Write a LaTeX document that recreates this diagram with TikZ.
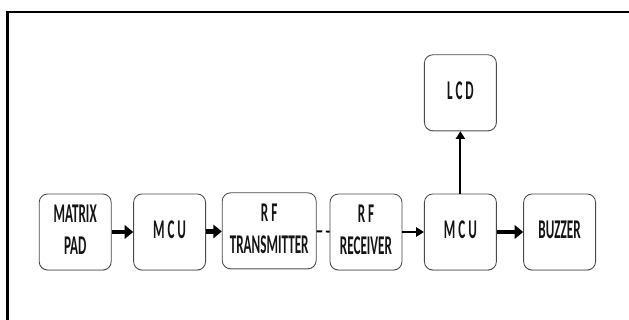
\documentclass[tikz,border=0pt]{standalone}
\usepackage{fontspec}
\setmainfont{Carlito}
\usepackage{graphicx}
\usetikzlibrary{arrows.meta, shadows}
\definecolor{bline}{HTML}{4A4A4A}
\definecolor{btext}{HTML}{151515}
\newcommand{\blocktext}[2][0cm]{\raisebox{#1}{\scalebox{0.85}[1.75]{\renewcommand{\arraystretch}{1.0}\begin{tabular}{@{}c@{}}#2\end{tabular}}}}

\begin{document}
\begin{tikzpicture}[x=1cm, y=1cm,
  block/.style={draw=bline, line width=0.6pt, rounded corners=6pt, fill=white,
    minimum width=1.8cm, minimum height=1.9cm, inner sep=0pt,
    font=\fontsize{11}{13.2}\selectfont\bfseries, text=btext,
    drop shadow={opacity=0.3, shadow xshift=0pt, shadow yshift=-0.7pt}},
  fatarrow/.style={line width=3.4pt, -{Triangle[length=6pt, width=9.5pt]}},
  thinarrow/.style={line width=1.4pt, -{Triangle[length=5.5pt, width=6.5pt]}}]
\useasboundingbox (0,0) rectangle (15.725,8);
\fill[white] (0,0) rectangle (15.725,8);
\draw[line width=1.8pt] (0.19,0) -- (0.19,7.7) -- (15.725,7.7);
\node[block] (pad) at (1.88,2.2) {\blocktext[-0.21cm]{MATRIX\\PAD}};
\node[block] (mcu1) at (4.24,2.2) {\blocktext{M C U}};
\node[block, minimum width=2.35cm] (tx) at (6.73,2.23) {\blocktext[-0.17cm]{R F\\TRANSMITTER}};
\node[block] (rx) at (9.15,2.2) {\blocktext[-0.09cm]{R F\\RECEIVER}};
\node[block] (mcu2) at (11.51,2.2) {\blocktext{M C U}};
\node[block] (buzzer) at (13.99,2.2) {\blocktext[0.08cm]{BUZZER}};
\node[block] (lcd) at (11.51,5.68) {\blocktext[0.2cm]{L C D}};
\draw[fatarrow] (pad) -- (mcu1);
\draw[fatarrow] (mcu1) -- (tx);
\draw[line width=1.4pt, dash pattern=on 4pt off 2.5pt] (tx) -- (rx);
\draw[thinarrow] (rx) -- (mcu2);
\draw[fatarrow] (mcu2) -- (buzzer);
\draw[thinarrow] (mcu2) -- (lcd);
\end{tikzpicture}
\end{document}
